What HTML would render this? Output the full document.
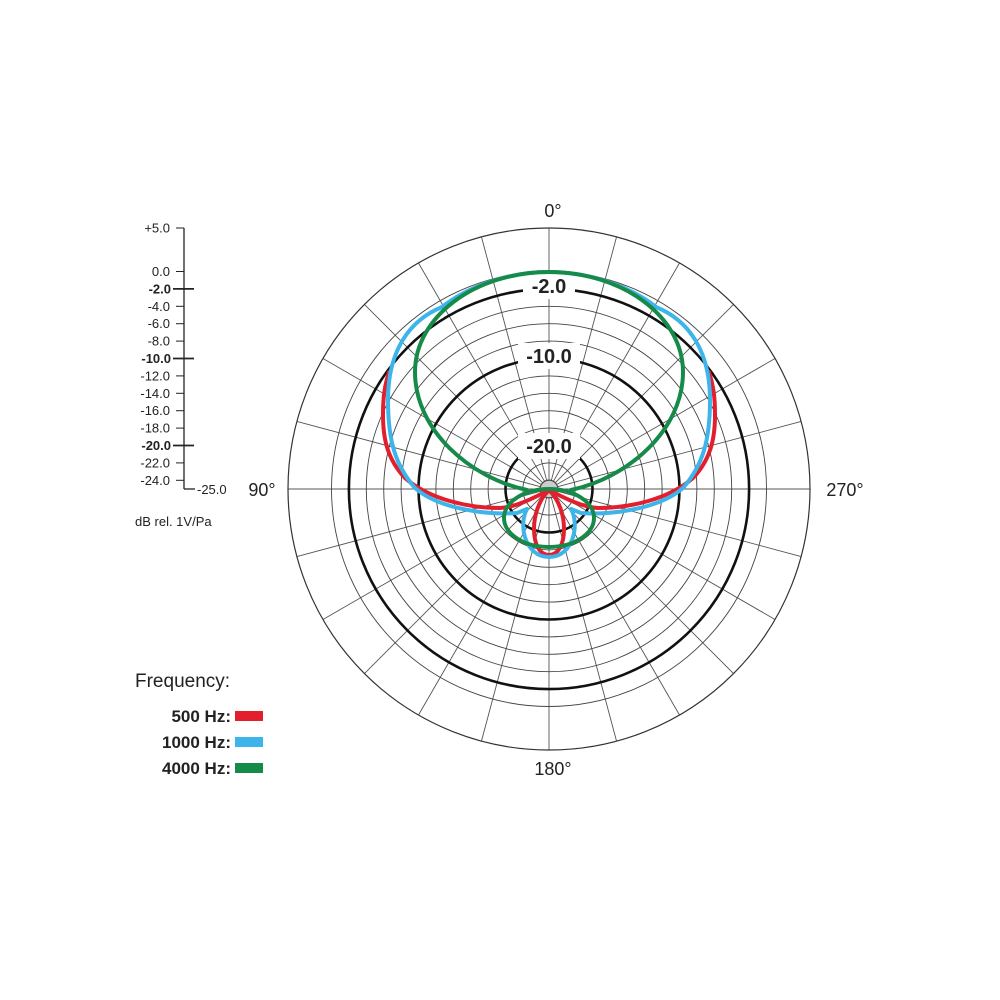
<!DOCTYPE html>
<html><head><meta charset="utf-8"><style>
html,body{margin:0;padding:0;background:#fff;}
svg{display:block;font-family:"Liberation Sans",sans-serif;}
</style></head><body>
<svg id="s" width="1000" height="1000" viewBox="0 0 1000 1000" xmlns="http://www.w3.org/2000/svg">
<rect width="1000" height="1000" fill="#fff"/>
<g id="grid"></g>
<g id="labels"></g>
<g fill="none" stroke-width="4" stroke-linejoin="round" stroke-linecap="round">
<g id="hr" stroke="#e21f2d">
<path d="M549,490 C530,500 515,507 500,508 C470,508 430,500 405,478 C388,460 383,440 383,415 C383,395 385,385 389,372"/>
<path d="M549,490 C528,510 530,555 549,555"/>
</g>
<use href="#hr" transform="translate(1098,0) scale(-1,1)"/>
<g id="hb" stroke="#3db5ea">
<path d="M527,509 L517,513 C490,515 440,510 415,488 C395,465 388,440 388,400 C388,350 410,320 442,307 C470,285 510,272 549,272"/>
<path d="M527,509 C518,525 525,557 549,557"/>
</g>
<use href="#hb" transform="translate(1098,0) scale(-1,1)"/>
<g id="hg" stroke="#168a48">
<path d="M527,490 C470,478 415,430 415,372 C415,317 475,272 549,272"/>
<path d="M549,547 C524,547 504,534 504,518 C504,502 524,489 549,489"/>
</g>
<use href="#hg" transform="translate(1098,0) scale(-1,1)"/>
</g>
<g id="scale"></g>
<text x="553" y="217" font-size="18" text-anchor="middle" fill="#222">0°</text>
<text x="262" y="496" font-size="18" text-anchor="middle" fill="#222">90°</text>
<text x="845" y="496" font-size="18" text-anchor="middle" fill="#222">270°</text>
<text x="553" y="775" font-size="18" text-anchor="middle" fill="#222">180°</text>
<text x="135" y="526" font-size="13" fill="#222">dB rel. 1V/Pa</text>
<text x="135" y="687" font-size="19" fill="#222">Frequency:</text>
<text x="231" y="722" font-size="17" font-weight="bold" text-anchor="end" fill="#222">500 Hz:</text>
<text x="231" y="748" font-size="17" font-weight="bold" text-anchor="end" fill="#222">1000 Hz:</text>
<text x="231" y="774" font-size="17" font-weight="bold" text-anchor="end" fill="#222">4000 Hz:</text>
<rect x="235" y="711" width="28" height="10" fill="#e21f2d"/>
<rect x="235" y="737" width="28" height="10" fill="#3db5ea"/>
<rect x="235" y="763" width="28" height="10" fill="#168a48"/>
</svg>
<script>
var NS="http://www.w3.org/2000/svg",cx=549,cy=489,k=8.7;
function el(p,t,a){var e=document.createElementNS(NS,t);for(var n in a)e.setAttribute(n,a[n]);document.getElementById(p).appendChild(e);return e;}
function R(db){return (db+25)*k;}
var g="grid";
for(var a=0;a<360;a+=15){var t=a*Math.PI/180;el(g,"line",{x1:cx+9*Math.sin(t),y1:cy-9*Math.cos(t),x2:cx+261*Math.sin(t),y2:cy-261*Math.cos(t),stroke:"#555","stroke-width":0.9});}
el(g,"circle",{cx:cx,cy:cy,r:9,fill:"#ccc",stroke:"#555","stroke-width":0.9});
for(var d=0;d>=-24;d-=2){var bold=(d==-2||d==-10||d==-20);el(g,"circle",{cx:cx,cy:cy,r:R(d),fill:"none",stroke:bold?"#111":"#444","stroke-width":bold?2.6:0.9});}
el(g,"circle",{cx:cx,cy:cy,r:261,fill:"none",stroke:"#333","stroke-width":1.2});
[["-2.0",286,52],["-10.0",356,62],["-20.0",446,62]].forEach(function(l){
el("labels","rect",{x:cx-l[2]/2,y:l[1]-13,width:l[2],height:26,fill:"#fff"});
var tx=el("labels","text",{x:cx,y:l[1]+7,"font-size":20,"font-weight":"bold","text-anchor":"middle",fill:"#222"});tx.textContent=l[0];});
var s="scale";el(s,"line",{x1:184,y1:228,x2:184,y2:489,stroke:"#222","stroke-width":1.3});
el(s,"line",{x1:184,y1:489,x2:195,y2:489,stroke:"#222","stroke-width":1.3});
var ls=[[5,"+5.0"],[0,"0.0"]];for(var d=-2;d>=-24;d-=2)ls.push([d,d.toFixed(1)]);
ls.forEach(function(l){var y=489-(l[0]+25)*k;var b=(l[0]==-2||l[0]==-10||l[0]==-20);
el(s,"line",{x1:b?173:176,y1:y,x2:b?194:184,y2:y,stroke:"#222","stroke-width":b?1.8:1});
var tx=el(s,"text",{x:b?171:170,y:y+4.5,"font-size":13,"text-anchor":"end",fill:"#222","font-weight":b?"bold":"normal"});tx.textContent=l[1];});
var tx=el(s,"text",{x:197,y:494,"font-size":13,fill:"#222"});tx.textContent="-25.0";
</script>
</body></html>
